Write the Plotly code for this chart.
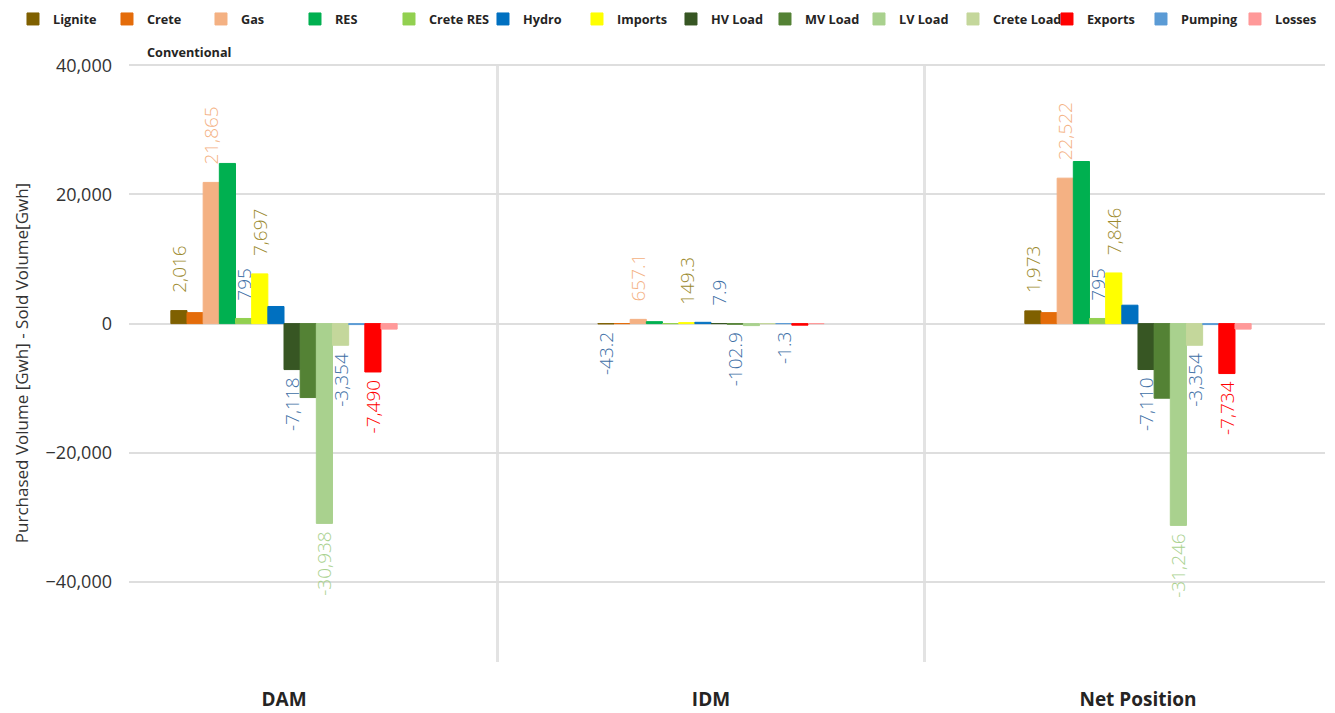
import plotly.graph_objects as go

# ---------------- data ----------------
markets = ["DAM", "IDM", "Net Position"]

# series in drawing order (values for DAM, IDM, Net Position), Gwh
lignite = [2016, -43.2, 1973]
crete_conventional = [1700, 0, 1700]
gas = [21865, 657.1, 22522]
res = [24800, 300, 25100]
crete_res = [795, 0, 795]
imports = [7697, 149.3, 7846]
hydro = [2650, 200, 2850]
hv_load = [-7118, 7.9, -7110]
mv_load = [-11450, -102.9, -11553]
lv_load = [-30938, -308, -31246]
crete_load = [-3354, 0, -3354]
pumping = [-150, -1.3, -151]
exports = [-7490, -244, -7734]
losses = [-850, 0, -850]

# which data labels are shown (DAM, IDM, Net Position)
label_lignite = [True, True, True]
label_gas = [True, True, True]
label_crete_res = [True, False, True]
label_imports = [True, True, True]
label_hv = [True, True, True]
label_mv = [False, True, False]
label_lv = [True, False, True]
label_crete_load = [True, False, True]
label_pumping = [False, True, False]
label_exports = [True, False, True]
no_label = [False, False, False]

CRETE_CONV = "Crete<br>\u00a0<br>Conventional"
legend_order = ["Lignite", CRETE_CONV, "Gas", "RES", "Crete RES", "Hydro",
                "Imports", "HV Load", "MV Load", "LV Load", "Crete Load", "Exports",
                "Pumping", "Losses"]

OLIVE = "#9C8A2E"
BLUE = "#3E6FA6"

series = [
    ("Lignite", lignite, "#7F6000", label_lignite, [OLIVE, BLUE, OLIVE]),
    (CRETE_CONV, crete_conventional, "#E46C0A", no_label, [BLUE] * 3),
    ("Gas", gas, "#F4B183", label_gas, ["#F4B183"] * 3),
    ("RES", res, "#00B050", no_label, [BLUE] * 3),
    ("Crete RES", crete_res, "#92D050", label_crete_res, [BLUE] * 3),
    ("Imports", imports, "#FFFF00", label_imports, [OLIVE] * 3),
    ("Hydro", hydro, "#0070C0", no_label, [BLUE] * 3),
    ("HV Load", hv_load, "#375623", label_hv, [BLUE] * 3),
    ("MV Load", mv_load, "#548235", label_mv, [BLUE] * 3),
    ("LV Load", lv_load, "#A9D18E", label_lv, ["#A9D18E"] * 3),
    ("Crete Load", crete_load, "#C4D79B", label_crete_load, [BLUE] * 3),
    ("Pumping", pumping, "#5B9BD5", label_pumping, [BLUE] * 3),
    ("Exports", exports, "#FF0000", label_exports, ["#FF0000"] * 3),
    ("Losses", losses, "#FF9999", no_label, [BLUE] * 3),
]


def fmt(v, market):
    s = f"{v:,.1f}" if market == "IDM" else f"{v:,.0f}"
    if v >= 0:
        return "\u00a0\u00a0\u00a0" + s
    return s + "\u00a0"


fig = go.Figure()
for name, vals, color, mask, lcols in series:
    texts = [fmt(v, m) if show else "" for v, m, show in zip(vals, markets, mask)]
    fig.add_trace(go.Bar(
        name=name,
        x=markets,
        y=vals,
        marker=dict(color=color, line=dict(color=color, width=1)),
        text=texts,
        textposition="outside",
        textangle=-90,
        constraintext="none",
        cliponaxis=False,
        textfont=dict(family="Open Sans", size=19, color=lcols, weight=300),
        legendrank=legend_order.index(name) + 1,
        hoverinfo="x+y+name",
    ))

# separators between market groups
for xb in [0.5, 1.5]:
    fig.add_shape(type="line", xref="x", yref="paper", x0=xb, x1=xb, y0=0, y1=1,
                  line=dict(color="#E3E3E3", width=3), layer="below")

fig.update_layout(
    width=1327, height=705,
    paper_bgcolor="white", plot_bgcolor="white",
    barmode="group", bargap=0.47, bargroupgap=0,
    margin=dict(l=121, r=10, t=56, b=51, autoexpand=False),
    font=dict(family="Open Sans", color="#444444"),
    legend=dict(
        orientation="h", xref="paper", yref="paper",
        x=-0.097, xanchor="left", y=1.1, yanchor="top",
        bgcolor="rgba(0,0,0,0)",
        font=dict(family="Open Sans", size=12.7, color="#252423", weight="bold"),
        valign="top", traceorder="normal",
        entrywidth=49, entrywidthmode="pixels",
        itemclick=False, itemdoubleclick=False,
    ),
    xaxis=dict(
        type="category",
        range=[-0.363, 2.438],
        showgrid=False, zeroline=False, showline=False, ticks="",
        tickfont=dict(family="Open Sans", size=19, color="#252423", weight="bold"),
        ticklabelstandoff=24,
    ),
    yaxis=dict(
        range=[-52400, 40200],
        dtick=20000, tick0=0,
        tickformat=",",
        showgrid=True, gridcolor="#DEDEDE", gridwidth=2,
        zeroline=True, zerolinecolor="#DEDEDE", zerolinewidth=2,
        showline=False, ticks="",
        tickfont=dict(family="Open Sans", size=18, color="#333333"),
        ticklabelstandoff=16,
        title=dict(text="Purchased Volume [Gwh] - Sold Volume[Gwh]",
                   font=dict(family="Open Sans", size=17, color="#333333"),
                   standoff=12),
    ),
)

fig.write_html("out.html")
